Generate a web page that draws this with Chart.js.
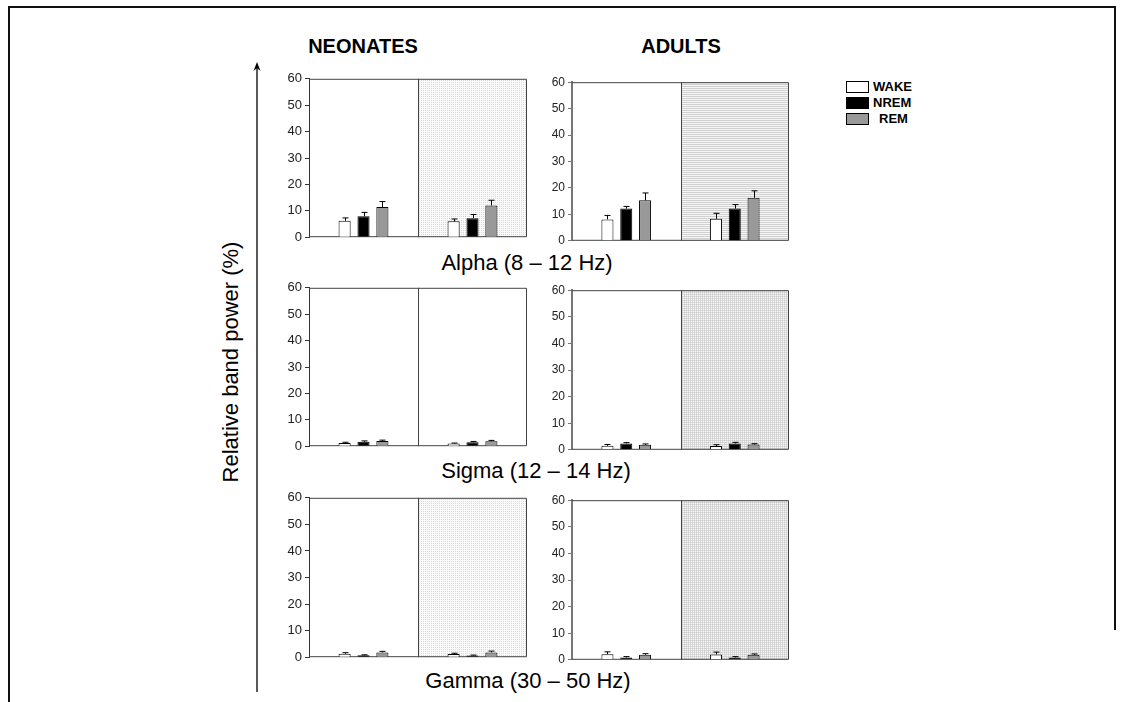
<!DOCTYPE html>
<html>
<head>
<meta charset="utf-8">
<script src="https://cdn.jsdelivr.net/npm/chart.js@4.4.0/dist/chart.umd.min.js"></script>
<style>
  body { margin: 0; background: #fff; font-family: Arial, "Liberation Sans", sans-serif; }
  #page { position: relative; width: 1125px; height: 702px; overflow: hidden; background: #fff; }
  #page canvas { position: absolute; }
  .txt { position: absolute; white-space: nowrap; color: #000; transform: translate(-50%, -50%); }
  .head { font-size: 20px; font-weight: bold; }
  .band { font-size: 22px; }
  .frame { position: absolute; border: 0 solid #111; }
  .legend { position: absolute; left: 846px; top: 81px; font-size: 13px; font-weight: bold; }
  .legend div { position: absolute; white-space: nowrap; line-height: 13px; }
  .legend span { position: absolute; width: 21px; height: 10px; border: 1px solid #000; }
</style>
</head>
<body>
<div id="page">
  <div class="frame" style="left:8px; top:6px; width:1106px; height:700px; border-top-width:2px; border-left-width:2px;"></div>
  <div class="frame" style="left:1114px; top:6px; width:0; height:624px; border-left-width:2px;"></div>

  <div class="txt head" style="left:363px; top:46px;">NEONATES</div>
  <div class="txt head" style="left:681px; top:46px;">ADULTS</div>

  <div class="txt band" style="left:527px; top:263px;">Alpha (8 – 12 Hz)</div>
  <div class="txt band" style="left:536px; top:471px;">Sigma (12 – 14 Hz)</div>
  <div class="txt band" style="left:528px; top:681px;">Gamma (30 – 50 Hz)</div>

  <div class="txt band" style="left:231px; top:362px; transform: translate(-50%, -50%) rotate(-90deg);">Relative band power (%)</div>

  <svg style="position:absolute; left:250px; top:60px;" width="16" height="640">
    <line x1="7" y1="6" x2="7" y2="632" stroke="#000" stroke-width="1.3"/>
    <path d="M7 2 L3.5 11 L7 8 L10.5 11 Z" fill="#000"/>
  </svg>

  <div class="legend" id="legend"></div>
</div>

<script>
// categories (the two halves of every panel) and legend series
const conditions = ['Condition A', 'Condition B'];
const stages = ['WAKE', 'NREM', 'REM'];
const yTicks = [0, 10, 20, 30, 40, 50, 60];

// Alpha (8 - 12 Hz): mean and SEM per stage, [left, right]
const neoAlphaWake = [6.2, 6.0];   const neoAlphaWakeSem = [1.1, 0.9];
const neoAlphaNrem = [7.9, 7.2];   const neoAlphaNremSem = [1.5, 1.4];
const neoAlphaRem  = [11.4, 12.0]; const neoAlphaRemSem  = [2.1, 2.0];
const adAlphaWake  = [8.1, 8.3];   const adAlphaWakeSem  = [1.5, 2.1];
const adAlphaNrem  = [12.2, 12.2]; const adAlphaNremSem  = [0.8, 1.5];
const adAlphaRem   = [15.3, 16.3]; const adAlphaRemSem   = [2.8, 2.6];

// Sigma (12 - 14 Hz)
const neoSigmaWake = [1.2, 1.0];   const neoSigmaWakeSem = [0.3, 0.2];
const neoSigmaNrem = [1.7, 1.5];   const neoSigmaNremSem = [0.3, 0.3];
const neoSigmaRem  = [2.0, 1.9];   const neoSigmaRemSem  = [0.3, 0.3];
const adSigmaWake  = [1.5, 1.4];   const adSigmaWakeSem  = [0.5, 0.5];
const adSigmaNrem  = [2.4, 2.4];   const adSigmaNremSem  = [0.3, 0.4];
const adSigmaRem   = [1.9, 2.0];   const adSigmaRemSem   = [0.3, 0.3];

// Gamma (30 - 50 Hz)
const neoGammaWake = [1.3, 1.2];   const neoGammaWakeSem = [0.4, 0.3];
const neoGammaNrem = [0.7, 0.6];   const neoGammaNremSem = [0.2, 0.2];
const neoGammaRem  = [1.8, 1.8];   const neoGammaRemSem  = [0.4, 0.5];
const adGammaWake  = [2.1, 2.0];   const adGammaWakeSem  = [0.9, 0.9];
const adGammaNrem  = [0.9, 0.9];   const adGammaNremSem  = [0.3, 0.3];
const adGammaRem   = [1.9, 1.9];   const adGammaRemSem   = [0.4, 0.3];

const AXIS_W = 40, PAD_T = 9, PAD_B = 9, PAD_R = 6;
const stageFill = ['#ffffff', '#000000', '#999999'];

function makePattern(kind) {
  const c = document.createElement('canvas');
  c.width = 2; c.height = 2;
  const g = c.getContext('2d');
  const px = (x, y, col) => { g.fillStyle = col; g.fillRect(x, y, 1, 1); };
  if (kind === 'dots') {
    px(0, 0, '#d8d8d8'); px(1, 0, '#fbfbfb'); px(0, 1, '#fbfbfb'); px(1, 1, '#fbfbfb');
  } else if (kind === 'lines') {
    px(0, 0, '#d0d0d0'); px(1, 0, '#d0d0d0'); px(0, 1, '#f6f6f6'); px(1, 1, '#f6f6f6');
  } else {
    px(0, 0, '#cccccc'); px(1, 0, '#dcdcdc'); px(0, 1, '#dcdcdc'); px(1, 1, '#f8f8f8');
  }
  return g.createPattern(c, 'repeat');
}

const panelDecor = {
  id: 'panelDecor',
  beforeDatasetsDraw(chart, args, opts) {
    const { ctx, chartArea: a, scales } = chart;
    const mid = Math.round((scales.x.getPixelForValue(0) + scales.x.getPixelForValue(1)) / 2) + 0.5;
    ctx.save();
    if (opts.fill) {
      ctx.fillStyle = makePattern(opts.fill);
      ctx.fillRect(mid, a.top, a.right - mid, a.bottom - a.top);
    }
    ctx.strokeStyle = opts.frameColor;
    ctx.lineWidth = 1;
    ctx.beginPath();
    ctx.moveTo(a.left, a.top + 0.5); ctx.lineTo(a.right - 0.5, a.top + 0.5);
    ctx.lineTo(a.right - 0.5, a.bottom - 0.5); ctx.lineTo(a.left, a.bottom - 0.5);
    ctx.moveTo(mid, a.top); ctx.lineTo(mid, a.bottom);
    ctx.stroke();
    ctx.restore();
  },
  afterDatasetsDraw(chart) {
    const { ctx, scales } = chart;
    ctx.save();
    ctx.strokeStyle = '#000';
    ctx.lineWidth = 1;
    chart.data.datasets.forEach((ds, di) => {
      chart.getDatasetMeta(di).data.forEach((bar, i) => {
        const x = Math.round(bar.x) + 0.5;
        const yTop = scales.y.getPixelForValue(ds.data[i] + ds.sem[i]);
        ctx.beginPath();
        ctx.moveTo(x, bar.y);
        ctx.lineTo(x, yTop);
        ctx.moveTo(x - 3, yTop);
        ctx.lineTo(x + 3, yTop);
        ctx.stroke();
      });
    });
    ctx.restore();
  }
};

function buildPanel(area, series, sems, fill, axisColor, axisWidth, tickSize) {
  const canvas = document.createElement('canvas');
  canvas.width = area.r - area.l + AXIS_W + PAD_R;
  canvas.height = area.b - area.t + PAD_T + PAD_B;
  canvas.style.left = (area.l - AXIS_W) + 'px';
  canvas.style.top = (area.t - PAD_T) + 'px';
  document.getElementById('page').appendChild(canvas);

  new Chart(canvas, {
    type: 'bar',
    data: {
      labels: conditions,
      datasets: stages.map((s, k) => ({
        label: s,
        data: series[k],
        sem: sems[k],
        backgroundColor: stageFill[k],
        borderColor: '#000',
        borderWidth: 1,
        categoryPercentage: 0.52,
        barPercentage: 0.64
      }))
    },
    options: {
      responsive: false,
      animation: false,
      layout: { padding: { top: PAD_T, bottom: PAD_B, right: PAD_R, left: 0 } },
      plugins: {
        legend: { display: false },
        tooltip: { enabled: false },
        panelDecor: { fill: fill, frameColor: '#444' }
      },
      scales: {
        x: { display: false },
        y: {
          min: 0, max: 60,
          afterBuildTicks: (scale) => { scale.ticks = yTicks.map(v => ({ value: v })); },
          afterFit: (scale) => { scale.width = AXIS_W; },
          ticks: { font: { family: 'Arial, "Liberation Sans"', size: tickSize }, color: '#222', padding: 3 },
          grid: { drawOnChartArea: false, tickLength: 4, color: axisColor },
          border: { color: axisColor, width: axisWidth }
        }
      }
    },
    plugins: [panelDecor]
  });
}

buildPanel({ l: 309, t: 77, r: 527, b: 239 },
  [neoAlphaWake, neoAlphaNrem, neoAlphaRem], [neoAlphaWakeSem, neoAlphaNremSem, neoAlphaRemSem], 'dots', '#333', 1, 13);
buildPanel({ l: 572, t: 81, r: 789, b: 242 },
  [adAlphaWake, adAlphaNrem, adAlphaRem], [adAlphaWakeSem, adAlphaNremSem, adAlphaRemSem], 'lines', '#777', 2, 12);
buildPanel({ l: 309, t: 286, r: 527, b: 448 },
  [neoSigmaWake, neoSigmaNrem, neoSigmaRem], [neoSigmaWakeSem, neoSigmaNremSem, neoSigmaRemSem], null, '#333', 1, 13);
buildPanel({ l: 572, t: 289, r: 789, b: 451 },
  [adSigmaWake, adSigmaNrem, adSigmaRem], [adSigmaWakeSem, adSigmaNremSem, adSigmaRemSem], 'grid', '#777', 2, 12);
buildPanel({ l: 309, t: 496, r: 527, b: 659 },
  [neoGammaWake, neoGammaNrem, neoGammaRem], [neoGammaWakeSem, neoGammaNremSem, neoGammaRemSem], 'dots', '#333', 1, 13);
buildPanel({ l: 572, t: 499, r: 789, b: 661 },
  [adGammaWake, adGammaNrem, adGammaRem], [adGammaWakeSem, adGammaNremSem, adGammaRemSem], 'grid', '#777', 2, 12);

// legend
const legend = document.getElementById('legend');
const legendTop = [0, 16, 32];
const legendTextX = [27, 27, 33];
stages.forEach((s, k) => {
  const box = document.createElement('span');
  box.style.top = legendTop[k] + 'px';
  box.style.left = '0px';
  box.style.background = stageFill[k];
  legend.appendChild(box);
  const t = document.createElement('div');
  t.textContent = s;
  t.style.top = (legendTop[k] - 1) + 'px';
  t.style.left = legendTextX[k] + 'px';
  legend.appendChild(t);
});
</script>
</body>
</html>
